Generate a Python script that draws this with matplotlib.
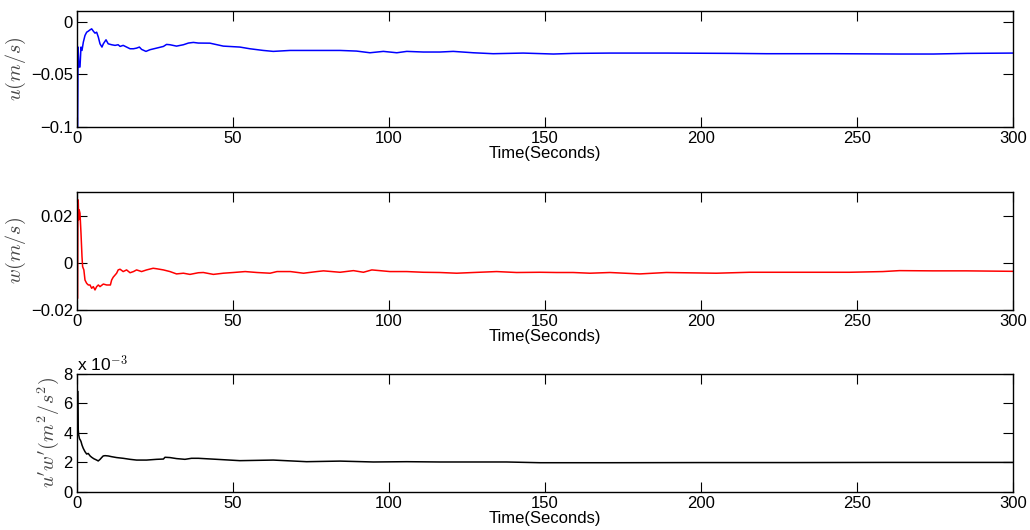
import matplotlib
matplotlib.use("Agg")
import matplotlib.pyplot as plt
from matplotlib.ticker import FuncFormatter

plt.rcParams["font.family"] = ["Liberation Sans", "DejaVu Sans"]
plt.rcParams["mathtext.fontset"] = "cm"

# u velocity (m/s)
t_u = [0.2, 0.35, 0.64, 0.96, 1.28, 1.6, 2.03, 2.56, 3.1, 3.63, 4.17, 4.7, 5.23,
       5.77, 6.3, 6.84, 7.37, 8.0, 8.44, 9.3, 10.0, 11.1, 12.2, 13.2, 13.8,
       14.8, 15.9, 17.0, 18.1, 19.1, 20.0, 20.7, 22.1, 23.4, 25.5, 27.7, 28.7,
       29.8, 31.9, 34.1, 35.7, 37.3, 38.9, 42.6, 46.9, 52.2, 55.4, 59.7, 62.9,
       68.3, 73.6, 78.9, 84.3, 89.6, 93.9, 98.2, 102.5, 105.7, 111, 116.3,
       120.6, 127, 133.4, 143, 152.7, 159, 170.8, 189, 210.4, 221, 242.4,
       263.8, 274.5, 285.2, 300]
u = [-0.0997, -0.0242, -0.0431, -0.0431, -0.0242, -0.0274, -0.0195, -0.0132,
     -0.0101, -0.0091, -0.0079, -0.0069, -0.0091, -0.0110, -0.0101, -0.0148,
     -0.0211, -0.0242, -0.0211, -0.0173, -0.0211, -0.0220, -0.0226, -0.0220,
     -0.0236, -0.0226, -0.0242, -0.0258, -0.0258, -0.0252, -0.0242, -0.0264,
     -0.0283, -0.0267, -0.0252, -0.0236, -0.0217, -0.0220, -0.0233, -0.0220,
     -0.0204, -0.0198, -0.0204, -0.0205, -0.0233, -0.0242, -0.0258, -0.0274,
     -0.0283, -0.0274, -0.0274, -0.0274, -0.0274, -0.0280, -0.0296, -0.0283,
     -0.0296, -0.0283, -0.0289, -0.0289, -0.0283, -0.0296, -0.0305, -0.0299,
     -0.0308, -0.0302, -0.0299, -0.0299, -0.0302, -0.0305, -0.0305, -0.0308,
     -0.0308, -0.0302, -0.0299]

# w velocity (m/s)
t_w = [0.2, 0.3, 0.4, 0.55, 0.7, 0.96, 1.28, 1.6, 1.8, 2.2, 2.56, 3.1, 3.63,
       4.17, 4.7, 5.23, 5.77, 6.3, 6.84, 7.37, 8.44, 9.5, 10.7, 11.1, 11.6,
       12.7, 13.2, 13.8, 14.8, 15.9, 17.0, 18.1, 19.1, 20.7, 22.3, 24.4, 25.5,
       27.7, 29.8, 31.9, 34.1, 36.2, 38.9, 40.5, 43.7, 46.9, 50.1, 53.9, 57.7,
       61.9, 64.1, 68.4, 72.6, 76.9, 79, 84.3, 88.6, 91.8, 94.5, 100.3, 105.7,
       111, 116.3, 121.7, 127, 134.5, 140.9, 148.4, 153.7, 159, 164.4, 170.8,
       180.4, 188.9, 204.9, 215.6, 231.6, 247.6, 258.3, 263.6, 274.3, 285, 300]
w = [-0.0150, 0.0267, 0.0260, 0.0182, 0.0224, 0.0210, 0.0125, 0.0026, -0.0017,
     -0.0031, -0.0074, -0.0088, -0.0095, -0.0095, -0.0109, -0.0102, -0.0116,
     -0.0102, -0.0095, -0.0102, -0.0091, -0.0095, -0.0095, -0.0074, -0.0062,
     -0.0045, -0.0031, -0.0028, -0.0038, -0.0031, -0.0043, -0.0038, -0.0031,
     -0.0038, -0.0031, -0.0024, -0.0026, -0.0031, -0.0038, -0.0048, -0.0045,
     -0.0050, -0.0043, -0.0042, -0.0050, -0.0045, -0.0042, -0.0038, -0.0042,
     -0.0045, -0.0038, -0.0038, -0.0045, -0.0038, -0.0035, -0.0041, -0.0034,
     -0.0041, -0.0031, -0.0038, -0.0038, -0.0041, -0.0042, -0.0045, -0.0042,
     -0.0038, -0.0042, -0.0041, -0.0042, -0.0042, -0.0045, -0.0042, -0.0048,
     -0.0042, -0.0045, -0.0041, -0.0041, -0.0041, -0.0038, -0.0034, -0.0035,
     -0.0035, -0.0037]

# u'w' (m^2/s^2)
t_uw = [0.3, 0.4, 0.55, 0.8, 1.1, 1.3, 1.6, 2.0, 2.56, 3.1, 3.6, 4.2, 4.7, 5.4,
        6.3, 6.8, 7.4, 7.9, 8.4, 9.0, 10.0, 11.1, 12.7, 14.8, 17.0, 19.1,
        22.3, 25.5, 27.7, 28.2, 29.8, 31.9, 34.6, 36.7, 38.9, 44.8, 52.2, 62.9,
        73.6, 84.3, 95, 105.7, 116.3, 127, 137.7, 148.4, 159, 170.8, 200, 230,
        260, 300]
uw = [6.8e-3, 4.2e-3, 3.85e-3, 3.6e-3, 3.5e-3, 3.4e-3, 3.17e-3, 2.95e-3,
      2.72e-3, 2.56e-3, 2.6e-3, 2.43e-3, 2.34e-3, 2.24e-3, 2.15e-3, 2.09e-3,
      2.2e-3, 2.32e-3, 2.43e-3, 2.45e-3, 2.43e-3, 2.38e-3, 2.32e-3, 2.27e-3,
      2.2e-3, 2.15e-3, 2.15e-3, 2.2e-3, 2.22e-3, 2.34e-3, 2.32e-3, 2.25e-3,
      2.2e-3, 2.27e-3, 2.27e-3, 2.2e-3, 2.11e-3, 2.15e-3, 2.04e-3, 2.08e-3,
      2.02e-3, 2.04e-3, 2.02e-3, 2.02e-3, 2.02e-3, 1.97e-3, 1.97e-3, 1.97e-3,
      1.98e-3, 1.98e-3, 1.99e-3, 1.99e-3]

fig = plt.figure(figsize=(10.3, 5.3), dpi=100)
left, width = 77 / 1030, 936 / 1030
ax1 = fig.add_axes([left, 1 - 127 / 530, width, 116 / 530])
ax2 = fig.add_axes([left, 1 - 309.7 / 530, width, 117.7 / 530])
ax3 = fig.add_axes([left, 1 - 491.7 / 530, width, 117.7 / 530])

ax1.plot(t_u, u, color="b", lw=1.1)
ax2.plot(t_w, w, color="r", lw=1.1)
ax3.plot(t_uw, uw, color="k", lw=1.1)

ax1.set_ylim(-0.1, 0.01)
ax1.set_yticks([-0.1, -0.05, 0])
ax1.set_yticklabels(["\u22120.1", "\u22120.05", "0"])
ax2.set_ylim(-0.02, 0.03)
ax2.set_yticks([-0.02, 0, 0.02])
ax2.set_yticklabels(["\u22120.02", "0", "0.02"])
ax3.set_ylim(0, 8e-3)
ax3.set_yticks([0, 2e-3, 4e-3, 6e-3, 8e-3])
ax3.yaxis.set_major_formatter(FuncFormatter(lambda v, p: "%g" % round(v * 1e3, 6)))
ax3.text(0.0, 1.0, "x 10$^{-3}$", transform=ax3.transAxes, fontsize=12.5,
         ha="left", va="bottom")

ylabels = [r"$u(m/s)$", r"$w(m/s)$", r"$u'w'(m^2/s^2)$"]
for ax, lab in zip([ax1, ax2, ax3], ylabels):
    ax.set_xlim(0, 300)
    ax.set_xticks([0, 50, 100, 150, 200, 250, 300])
    ax.tick_params(direction="in", top=True, right=True, length=7,
                   labelsize=12, pad=3)
    for s in ax.spines.values():
        s.set_linewidth(1)
    ax.set_xlabel("Time(Seconds)", fontsize=12, labelpad=0)
    ax.set_ylabel(lab, fontsize=14.5, color="#444444", labelpad=2)

fig.savefig("out.png", dpi=100)
